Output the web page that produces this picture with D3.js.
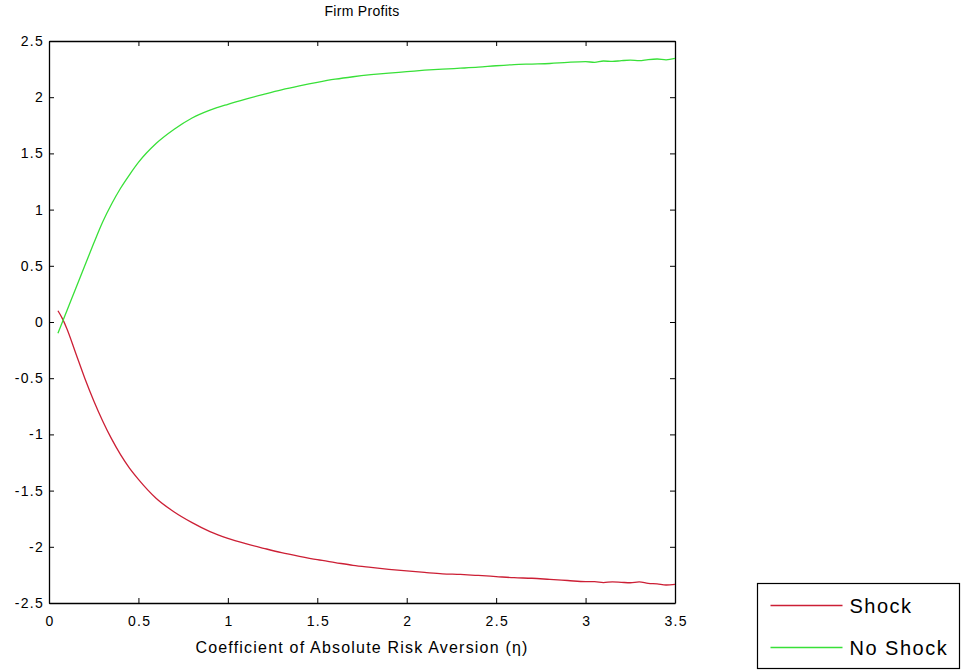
<!DOCTYPE html>
<html>
<head>
<meta charset="utf-8">
<script src="https://cdn.jsdelivr.net/npm/d3@7"></script>
<style>
  body { margin: 0; background: #fff; }
  text { font-family: "Liberation Sans", Arial, sans-serif; fill: #000; }
</style>
</head>
<body>
<div id="chart"></div>
<script>
// risk aversion grid (x values)
var eta = [0.05, 0.075, 0.1, 0.15, 0.2, 0.25, 0.3, 0.35, 0.4, 0.45, 0.5, 0.6, 0.7, 0.8, 0.9,
    1.0, 1.1, 1.2, 1.3, 1.4, 1.5, 1.6, 1.7, 1.8, 1.9, 2.0, 2.1, 2.2, 2.3, 2.4, 2.5, 2.6, 2.7,
    2.8, 2.9, 3.0, 3.05, 3.1, 3.15, 3.2, 3.25, 3.3, 3.35, 3.4, 3.45, 3.5];

var shock = [0.10, 0.03, -0.06, -0.28, -0.50, -0.70, -0.88, -1.04, -1.18, -1.30, -1.40, -1.57,
    -1.69, -1.785, -1.865, -1.925, -1.972, -2.013, -2.052, -2.085, -2.115, -2.14, -2.165, -2.183,
    -2.20, -2.215, -2.228, -2.24, -2.246, -2.255, -2.265, -2.275, -2.28, -2.29, -2.30, -2.31,
    -2.31, -2.318, -2.312, -2.316, -2.32, -2.312, -2.325, -2.33, -2.34, -2.335];

var noShock = [-0.10, 0.0, 0.10, 0.30, 0.50, 0.70, 0.89, 1.05, 1.19, 1.31, 1.42, 1.59, 1.715,
    1.815, 1.885, 1.937, 1.983, 2.025, 2.065, 2.1, 2.132, 2.16, 2.182, 2.20, 2.215, 2.227, 2.24,
    2.25, 2.258, 2.267, 2.28, 2.29, 2.295, 2.30, 2.31, 2.316, 2.31, 2.322, 2.318, 2.325, 2.33,
    2.325, 2.335, 2.34, 2.332, 2.345];

var xTicks = [0, 0.5, 1, 1.5, 2, 2.5, 3, 3.5];
var yTicks = [-2.5, -2, -1.5, -1, -0.5, 0, 0.5, 1, 1.5, 2, 2.5];

var seriesNames = ['Shock', 'No Shock'];
var seriesColors = ['#cc1f35', '#38e038'];

var svgWidth = 961, svgHeight = 670;
var margin = {top: 41, right: 286, bottom: 67, left: 49};
var width = svgWidth - margin.left - margin.right;
var height = svgHeight - margin.top - margin.bottom;

var svg = d3.select('#chart').append('svg')
    .attr('width', svgWidth).attr('height', svgHeight);

var g = svg.append('g')
    .attr('transform', 'translate(' + margin.left + ',' + margin.top + ')');

var x = d3.scaleLinear().domain([0, 3.5]).range([0, width]);
var y = d3.scaleLinear().domain([-2.5, 2.5]).range([height, 0]);

function fmt(d) { return String(d); }

// axes, ticks pointing inward like matlab
var xAxis = g.append('g').attr('class', 'axis')
    .attr('transform', 'translate(0,' + height + ')')
    .call(d3.axisBottom(x).tickValues(xTicks).tickFormat(fmt).tickSizeInner(-5).tickSizeOuter(0).tickPadding(13));
var xTop = g.append('g').attr('class', 'axis')
    .call(d3.axisTop(x).tickValues(xTicks).tickFormat('').tickSizeInner(-5).tickSizeOuter(0));
var yAxis = g.append('g').attr('class', 'axis')
    .call(d3.axisLeft(y).tickValues(yTicks).tickFormat(fmt).tickSizeInner(-5).tickSizeOuter(0).tickPadding(5));
var yRight = g.append('g').attr('class', 'axis')
    .attr('transform', 'translate(' + width + ',0)')
    .call(d3.axisRight(y).tickValues(yTicks).tickFormat('').tickSizeInner(-5).tickSizeOuter(0));

g.selectAll('.axis path').attr('stroke', '#000').attr('stroke-width', 1.3);
g.selectAll('.axis line').attr('stroke', '#000').attr('stroke-width', 1);
g.selectAll('.axis text')
    .style('font-size', '14px')
    .style('letter-spacing', '1.3px')
    .style('font-family', '"Liberation Sans", Arial, sans-serif')
    .attr('fill', '#000');
// letter spacing adds a trailing gap, shift centred labels back
xAxis.selectAll('text').attr('dx', '0.65px');

// lines
var line = d3.line()
    .curve(d3.curveMonotoneX)
    .x(function(d, i) { return x(eta[i]); })
    .y(function(d) { return y(d); });

[shock, noShock].forEach(function(s, k) {
    g.append('path')
        .datum(s)
        .attr('fill', 'none')
        .attr('stroke', seriesColors[k])
        .attr('stroke-width', 1.3)
        .attr('d', line);
});

// title and label
g.append('text')
    .attr('x', width / 2).attr('y', -25)
    .attr('text-anchor', 'middle')
    .style('font-size', '14px')
    .style('letter-spacing', '0.3px')
    .text('Firm Profits');

g.append('text')
    .attr('x', width / 2).attr('y', height + 50)
    .attr('text-anchor', 'middle')
    .style('font-size', '16px')
    .style('letter-spacing', '1.2px')
    .text('Coefficient of Absolute Risk Aversion (\u03B7)');

// legend
var legend = svg.append('g').attr('transform', 'translate(757.5,583.5)');
legend.append('rect')
    .attr('width', 202).attr('height', 85)
    .attr('fill', '#fff').attr('stroke', '#000').attr('stroke-width', 1.2);

seriesNames.forEach(function(name, k) {
    var ly = 22 + k * 42;
    legend.append('line')
        .attr('x1', 13).attr('x2', 85).attr('y1', ly).attr('y2', ly)
        .attr('stroke', seriesColors[k]).attr('stroke-width', 1.5);
    legend.append('text')
        .attr('x', 92).attr('y', ly + 7)
        .style('font-size', '20px')
        .style('letter-spacing', '1.5px')
        .text(name);
});
</script>
</body>
</html>
